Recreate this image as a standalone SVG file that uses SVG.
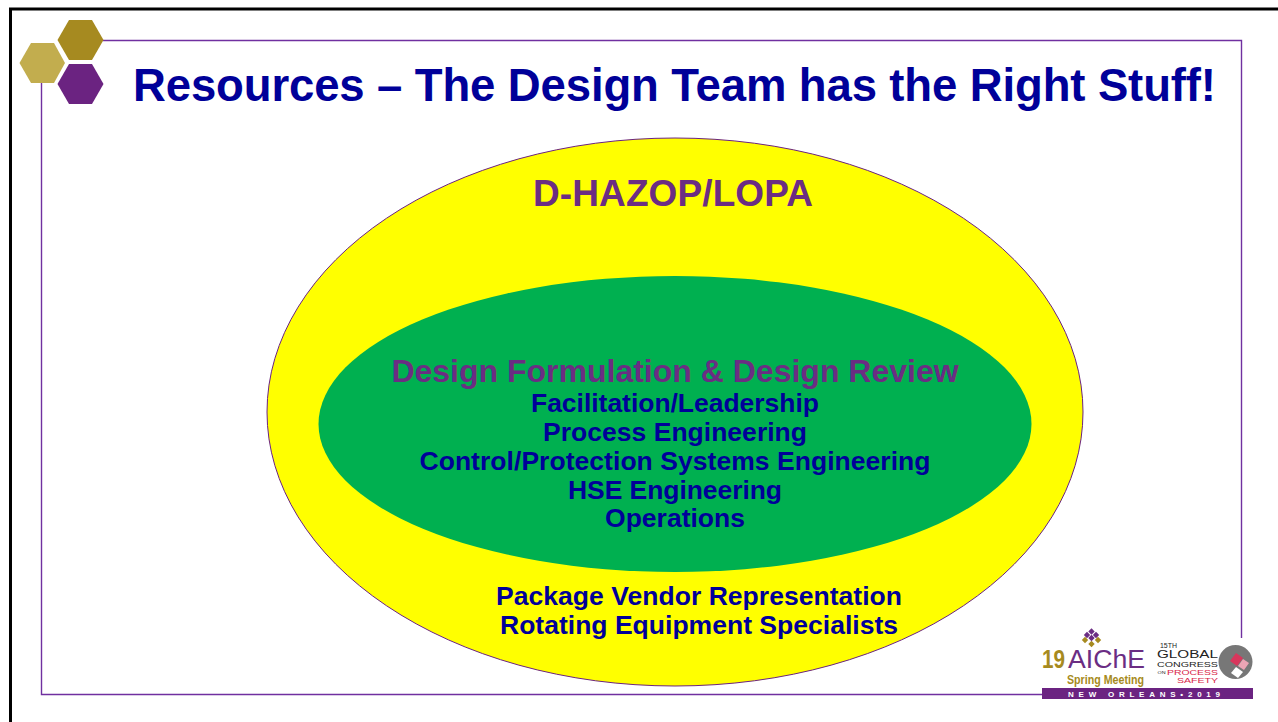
<svg xmlns="http://www.w3.org/2000/svg" width="1278" height="722" viewBox="0 0 1278 722">
<defs><path id="d" d="M0-3.200L3.200 0 0 3.200-3.200 0z"/></defs>
<style>
text{font-family:"Liberation Sans",Arial,sans-serif;font-weight:bold;text-anchor:middle}
.b{fill:#000099;font-size:26.500px}
.p{fill:#6b2d83}
.g{fill:#a68a20}
.n{font-weight:normal}
.k{fill:#222}
.r{fill:#d81e4a}
.line{stroke:#7030a0;stroke-width:1.400;fill:none}
</style>
<rect width="1278" height="722" fill="#fff"/>
<path d="M10.500 722V9H1278" fill="none" stroke="#000" stroke-width="3"/>
<g id="frame"><path class="line" d="M103 40.500H1241.500V694.500H41.500V80"/></g>
<g id="hexagons">
<polygon points="69,20 92,20 103.500,40 92,60 69,60 57.500,40" fill="#a68a20"/>
<polygon points="31,43 54,43 65,63 54,83 31,83 19.500,63" fill="#c2ad4e"/>
<polygon points="69,64 92,64 103.500,84 92,104 69,104 57.500,84" fill="#6b2381"/>
</g>
<text x="674.500" y="101" fill="#000099" font-size="45.500" textLength="1083" lengthAdjust="spacing">Resources – The Design Team has the Right Stuff!</text>
<g id="outer"><ellipse cx="675" cy="412" rx="408" ry="274" fill="#ffff00" stroke="#6b2381"/>
<text x="673" y="206" class="p" font-size="37" textLength="280">D-HAZOP/LOPA</text>
<text class="b" x="699" y="605" textLength="406">Package Vendor Representation</text>
<text class="b" x="699" y="634" textLength="398">Rotating Equipment Specialists</text></g>
<g id="inner"><ellipse cx="675" cy="424" rx="356.500" ry="148" fill="#00b050"/>
<text x="675" y="382" class="p" font-size="32">Design Formulation &amp; Design Review</text>
<text class="b" x="675" y="412" textLength="288">Facilitation/Leadership</text>
<text class="b" x="675" y="441" textLength="264">Process Engineering</text>
<text class="b" x="675" y="470" textLength="511">Control/Protection Systems Engineering</text>
<text class="b" x="675" y="499" textLength="214">HSE Engineering</text>
<text class="b" x="675" y="527" textLength="140">Operations</text></g>
<g id="logo">
<rect x="1038" y="638" width="217" height="50" fill="#fff"/>
<rect x="1042" y="688" width="211" height="11" fill="#6b2381"/>
<text x="1144" y="696.500" fill="#fff" font-size="8" textLength="152">NEW  ORLEANS•2019</text>
<g class="p">
<use href="#d" x="1091.500" y="631.500"/><use href="#d" x="1087" y="635"/><use href="#d" x="1096" y="635"/>
<use href="#d" x="1091.500" y="638"/></g>
<g class="g"><use href="#d" x="1085" y="640"/><use href="#d" x="1098" y="640"/><use href="#d" x="1091.500" y="644"/></g>
<text x="1106.500" y="668" class="p n" font-size="25" textLength="77" lengthAdjust="spacingAndGlyphs">AIChE</text>
<text x="1053.500" y="668" class="g" font-size="25" textLength="23" lengthAdjust="spacingAndGlyphs">19</text>
<text x="1105.500" y="684" class="g" font-size="12.500" textLength="77" lengthAdjust="spacingAndGlyphs">Spring Meeting</text>
<text x="1168.500" y="648" class="k n" font-size="6.500" textLength="17" lengthAdjust="spacingAndGlyphs">15TH</text>
<text x="1187.500" y="658" class="k n" font-size="10" textLength="61" lengthAdjust="spacingAndGlyphs">GLOBAL</text>
<text x="1187.500" y="667" class="k n" font-size="7.500" textLength="61" lengthAdjust="spacingAndGlyphs">CONGRESS</text>
<text x="1192.500" y="675" class="r n" font-size="7.500" textLength="51" lengthAdjust="spacingAndGlyphs">PROCESS</text>
<text x="1161.500" y="674" class="k n" font-size="3.800" textLength="8" lengthAdjust="spacingAndGlyphs">ON</text>
<text x="1197.500" y="683" class="r n" font-size="7.500" textLength="41" lengthAdjust="spacingAndGlyphs">SAFETY</text>
<circle cx="1235.500" cy="662" r="17" fill="#777"/>
<path d="M1236 653l7 5-6 8-7-5z" fill="#d8365c"/>
<path d="M1243 659l6 4-5 7-6-4z" fill="#eda5b5"/>
<path d="M1236 667l7 5-5 6-7-5z" fill="#fff"/>
</g>
</svg>
